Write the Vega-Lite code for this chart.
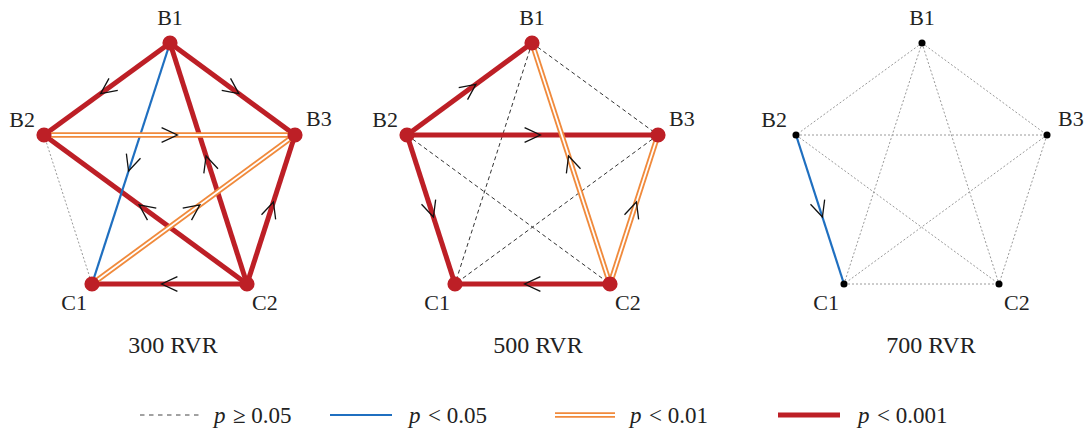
{
  "$schema": "https://vega.github.io/schema/vega-lite/v6.json",
  "width": 1085,
  "height": 435,
  "autosize": {"type": "fit", "contains": "padding"},
  "padding": 0,
  "background": "white",
  "config": {"font": "'Liberation Serif', 'DejaVu Serif', serif", "view": {"stroke": null}, "axis": {"disable": true}, "text": {"font": "'Liberation Serif', 'DejaVu Serif', serif", "color": "#222222"}},
  "datasets": {
    "nodes": [
      {"panel": "300 RVR", "node": "B1", "id": "300B1", "x": 170, "y": 43},
      {"panel": "300 RVR", "node": "B2", "id": "300B2", "x": 44, "y": 135},
      {"panel": "300 RVR", "node": "B3", "id": "300B3", "x": 295, "y": 135},
      {"panel": "300 RVR", "node": "C1", "id": "300C1", "x": 92, "y": 284},
      {"panel": "300 RVR", "node": "C2", "id": "300C2", "x": 247, "y": 284},
      {"panel": "500 RVR", "node": "B1", "id": "500B1", "x": 532, "y": 43},
      {"panel": "500 RVR", "node": "B2", "id": "500B2", "x": 407, "y": 135},
      {"panel": "500 RVR", "node": "B3", "id": "500B3", "x": 658, "y": 135},
      {"panel": "500 RVR", "node": "C1", "id": "500C1", "x": 455, "y": 284},
      {"panel": "500 RVR", "node": "C2", "id": "500C2", "x": 610, "y": 284},
      {"panel": "700 RVR", "node": "B1", "id": "700B1", "x": 922, "y": 43},
      {"panel": "700 RVR", "node": "B2", "id": "700B2", "x": 796, "y": 135},
      {"panel": "700 RVR", "node": "B3", "id": "700B3", "x": 1047, "y": 135},
      {"panel": "700 RVR", "node": "C1", "id": "700C1", "x": 844, "y": 284},
      {"panel": "700 RVR", "node": "C2", "id": "700C2", "x": 999, "y": 284}
    ],
    "edges": [
      {"panel": "300 RVR", "src": "300B1", "dst": "300B2", "sig": "p < 0.001"},
      {"panel": "300 RVR", "src": "300B1", "dst": "300B3", "sig": "p < 0.001"},
      {"panel": "300 RVR", "src": "300B1", "dst": "300C1", "sig": "p < 0.05"},
      {"panel": "300 RVR", "src": "300C2", "dst": "300B1", "sig": "p < 0.001"},
      {"panel": "300 RVR", "src": "300B2", "dst": "300B3", "sig": "p < 0.01"},
      {"panel": "300 RVR", "src": "300B2", "dst": "300C1", "sig": "p ≥ 0.05"},
      {"panel": "300 RVR", "src": "300C2", "dst": "300B2", "sig": "p < 0.001"},
      {"panel": "300 RVR", "src": "300C1", "dst": "300B3", "sig": "p < 0.01"},
      {"panel": "300 RVR", "src": "300C2", "dst": "300B3", "sig": "p < 0.001"},
      {"panel": "300 RVR", "src": "300C2", "dst": "300C1", "sig": "p < 0.001"},
      {"panel": "500 RVR", "src": "500B2", "dst": "500B1", "sig": "p < 0.001"},
      {"panel": "500 RVR", "src": "500B1", "dst": "500B3", "sig": "p ≥ 0.05"},
      {"panel": "500 RVR", "src": "500B1", "dst": "500C1", "sig": "p ≥ 0.05"},
      {"panel": "500 RVR", "src": "500C2", "dst": "500B1", "sig": "p < 0.01"},
      {"panel": "500 RVR", "src": "500B2", "dst": "500B3", "sig": "p < 0.001"},
      {"panel": "500 RVR", "src": "500B2", "dst": "500C1", "sig": "p < 0.001"},
      {"panel": "500 RVR", "src": "500B2", "dst": "500C2", "sig": "p ≥ 0.05"},
      {"panel": "500 RVR", "src": "500B3", "dst": "500C1", "sig": "p ≥ 0.05"},
      {"panel": "500 RVR", "src": "500C2", "dst": "500B3", "sig": "p < 0.01"},
      {"panel": "500 RVR", "src": "500C2", "dst": "500C1", "sig": "p < 0.001"},
      {"panel": "700 RVR", "src": "700B2", "dst": "700C1", "sig": "p < 0.05"},
      {"panel": "700 RVR", "src": "700B1", "dst": "700B2", "sig": "p ≥ 0.05"},
      {"panel": "700 RVR", "src": "700B1", "dst": "700B3", "sig": "p ≥ 0.05"},
      {"panel": "700 RVR", "src": "700B1", "dst": "700C1", "sig": "p ≥ 0.05"},
      {"panel": "700 RVR", "src": "700B1", "dst": "700C2", "sig": "p ≥ 0.05"},
      {"panel": "700 RVR", "src": "700B2", "dst": "700B3", "sig": "p ≥ 0.05"},
      {"panel": "700 RVR", "src": "700B2", "dst": "700C2", "sig": "p ≥ 0.05"},
      {"panel": "700 RVR", "src": "700B3", "dst": "700C1", "sig": "p ≥ 0.05"},
      {"panel": "700 RVR", "src": "700B3", "dst": "700C2", "sig": "p ≥ 0.05"},
      {"panel": "700 RVR", "src": "700C1", "dst": "700C2", "sig": "p ≥ 0.05"}
    ],
    "titles": [
      {"panel": "300 RVR", "x": 173},
      {"panel": "500 RVR", "x": 538},
      {"panel": "700 RVR", "x": 931}
    ],
    "legend": [
      {"sig": "p ≥ 0.05", "rest": "≥ 0.05", "x": 140, "x2": 202, "tx": 214},
      {"sig": "p < 0.05", "rest": "< 0.05", "x": 330, "x2": 392, "tx": 409},
      {"sig": "p < 0.01", "rest": "< 0.01", "x": 555, "x2": 615, "tx": 630},
      {"sig": "p < 0.001", "rest": "< 0.001", "x": 778, "x2": 840, "tx": 858}
    ]
  },
  "layer": [
    {
      "data": {"name": "edges"},
      "transform": [
        {"lookup": "src", "from": {"data": {"name": "nodes"}, "key": "id", "fields": ["x", "y"]}, "as": ["x1", "y1"]},
        {"lookup": "dst", "from": {"data": {"name": "nodes"}, "key": "id", "fields": ["x", "y"]}, "as": ["x2", "y2"]},
        {"filter": "datum.sig === 'p ≥ 0.05' && datum.panel === '500 RVR'"}
      ],
      "mark": {"type": "rule", "color": "#333333", "strokeWidth": 1, "strokeDash": [4, 3]},
      "encoding": {
        "x": {"field": "x1", "type": "quantitative", "scale": {"domain": [0, 1085], "nice": false, "zero": false}, "axis": null},
        "y": {"field": "y1", "type": "quantitative", "scale": {"domain": [0, 435], "nice": false, "zero": false, "reverse": true}, "axis": null},
        "x2": {"field": "x2"},
        "y2": {"field": "y2"}
      }
    },
    {
      "data": {"name": "edges"},
      "transform": [
        {"lookup": "src", "from": {"data": {"name": "nodes"}, "key": "id", "fields": ["x", "y"]}, "as": ["x1", "y1"]},
        {"lookup": "dst", "from": {"data": {"name": "nodes"}, "key": "id", "fields": ["x", "y"]}, "as": ["x2", "y2"]},
        {"filter": "datum.sig === 'p ≥ 0.05' && datum.panel !== '500 RVR'"}
      ],
      "mark": {"type": "rule", "color": "#9a9a9a", "strokeWidth": 1, "strokeDash": [2, 2]},
      "encoding": {
        "x": {"field": "x1", "type": "quantitative", "scale": {"domain": [0, 1085], "nice": false, "zero": false}, "axis": null},
        "y": {"field": "y1", "type": "quantitative", "scale": {"domain": [0, 435], "nice": false, "zero": false, "reverse": true}, "axis": null},
        "x2": {"field": "x2"},
        "y2": {"field": "y2"}
      }
    },
    {
      "data": {"name": "edges"},
      "transform": [
        {"lookup": "src", "from": {"data": {"name": "nodes"}, "key": "id", "fields": ["x", "y"]}, "as": ["x1", "y1"]},
        {"lookup": "dst", "from": {"data": {"name": "nodes"}, "key": "id", "fields": ["x", "y"]}, "as": ["x2", "y2"]},
        {"filter": "datum.sig === 'p < 0.001'"}
      ],
      "mark": {"type": "rule", "strokeCap": "butt", "strokeWidth": 5},
      "encoding": {
        "x": {"field": "x1", "type": "quantitative", "scale": {"domain": [0, 1085], "nice": false, "zero": false}, "axis": null},
        "y": {"field": "y1", "type": "quantitative", "scale": {"domain": [0, 435], "nice": false, "zero": false, "reverse": true}, "axis": null},
        "x2": {"field": "x2"},
        "y2": {"field": "y2"},
        "color": {"field": "sig", "type": "nominal", "scale": {"domain": ["p ≥ 0.05", "p < 0.05", "p < 0.01", "p < 0.001"], "range": ["#444444", "#1f6fc0", "#f08a3c", "#bd1f26"]}, "legend": null}
      }
    },
    {
      "data": {"name": "edges"},
      "transform": [
        {"lookup": "src", "from": {"data": {"name": "nodes"}, "key": "id", "fields": ["x", "y"]}, "as": ["x1", "y1"]},
        {"lookup": "dst", "from": {"data": {"name": "nodes"}, "key": "id", "fields": ["x", "y"]}, "as": ["x2", "y2"]},
        {"filter": "datum.sig === 'p < 0.05'"}
      ],
      "mark": {"type": "rule", "strokeCap": "butt", "strokeWidth": 2.2},
      "encoding": {
        "x": {"field": "x1", "type": "quantitative", "scale": {"domain": [0, 1085], "nice": false, "zero": false}, "axis": null},
        "y": {"field": "y1", "type": "quantitative", "scale": {"domain": [0, 435], "nice": false, "zero": false, "reverse": true}, "axis": null},
        "x2": {"field": "x2"},
        "y2": {"field": "y2"},
        "color": {"field": "sig", "type": "nominal", "scale": {"domain": ["p ≥ 0.05", "p < 0.05", "p < 0.01", "p < 0.001"], "range": ["#444444", "#1f6fc0", "#f08a3c", "#bd1f26"]}, "legend": null}
      }
    },
    {
      "data": {"name": "edges"},
      "transform": [
        {"lookup": "src", "from": {"data": {"name": "nodes"}, "key": "id", "fields": ["x", "y"]}, "as": ["x1", "y1"]},
        {"lookup": "dst", "from": {"data": {"name": "nodes"}, "key": "id", "fields": ["x", "y"]}, "as": ["x2", "y2"]},
        {"filter": "datum.sig === 'p < 0.01'"}
      ],
      "mark": {"type": "rule", "strokeCap": "butt", "strokeWidth": 5.5},
      "encoding": {
        "x": {"field": "x1", "type": "quantitative", "scale": {"domain": [0, 1085], "nice": false, "zero": false}, "axis": null},
        "y": {"field": "y1", "type": "quantitative", "scale": {"domain": [0, 435], "nice": false, "zero": false, "reverse": true}, "axis": null},
        "x2": {"field": "x2"},
        "y2": {"field": "y2"},
        "color": {"field": "sig", "type": "nominal", "scale": {"domain": ["p ≥ 0.05", "p < 0.05", "p < 0.01", "p < 0.001"], "range": ["#444444", "#1f6fc0", "#f08a3c", "#bd1f26"]}, "legend": null}
      }
    },
    {
      "data": {"name": "edges"},
      "transform": [
        {"lookup": "src", "from": {"data": {"name": "nodes"}, "key": "id", "fields": ["x", "y"]}, "as": ["x1", "y1"]},
        {"lookup": "dst", "from": {"data": {"name": "nodes"}, "key": "id", "fields": ["x", "y"]}, "as": ["x2", "y2"]},
        {"filter": "datum.sig === 'p < 0.01'"}
      ],
      "mark": {"type": "rule", "strokeCap": "butt", "strokeWidth": 1.8, "color": "white"},
      "encoding": {
        "x": {"field": "x1", "type": "quantitative", "scale": {"domain": [0, 1085], "nice": false, "zero": false}, "axis": null},
        "y": {"field": "y1", "type": "quantitative", "scale": {"domain": [0, 435], "nice": false, "zero": false, "reverse": true}, "axis": null},
        "x2": {"field": "x2"},
        "y2": {"field": "y2"}
      }
    },
    {
      "data": {"name": "edges"},
      "transform": [
        {"lookup": "src", "from": {"data": {"name": "nodes"}, "key": "id", "fields": ["x", "y"]}, "as": ["x1", "y1"]},
        {"lookup": "dst", "from": {"data": {"name": "nodes"}, "key": "id", "fields": ["x", "y"]}, "as": ["x2", "y2"]},
        {"filter": "datum.sig !== 'p ≥ 0.05'"},
        {"calculate": "(datum.x1 + datum.x2) / 2", "as": "mx"},
        {"calculate": "(datum.y1 + datum.y2) / 2", "as": "my"},
        {"calculate": "atan2(datum.y2 - datum.y1, datum.x2 - datum.x1) * 180 / PI", "as": "ang"}
      ],
      "mark": {"type": "point", "shape": "M-0.5,-0.47L0.5,0L-0.5,0.47", "filled": false, "stroke": "#111111", "strokeWidth": 1.3, "size": 1000, "opacity": 1},
      "encoding": {
        "x": {"field": "mx", "type": "quantitative", "scale": {"domain": [0, 1085], "nice": false, "zero": false}, "axis": null},
        "y": {"field": "my", "type": "quantitative", "scale": {"domain": [0, 435], "nice": false, "zero": false, "reverse": true}, "axis": null},
        "angle": {"field": "ang", "type": "quantitative", "scale": null}
      }
    },
    {
      "data": {"name": "nodes"},
      "transform": [{"filter": "datum.panel !== '700 RVR'"}],
      "mark": {"type": "circle", "size": 230, "color": "#bd1f26", "opacity": 1},
      "encoding": {
        "x": {"field": "x", "type": "quantitative", "scale": {"domain": [0, 1085], "nice": false, "zero": false}, "axis": null},
        "y": {"field": "y", "type": "quantitative", "scale": {"domain": [0, 435], "nice": false, "zero": false, "reverse": true}, "axis": null}
      }
    },
    {
      "data": {"name": "nodes"},
      "transform": [{"filter": "datum.panel === '700 RVR'"}],
      "mark": {"type": "circle", "size": 50, "color": "#000000", "opacity": 1},
      "encoding": {
        "x": {"field": "x", "type": "quantitative", "scale": {"domain": [0, 1085], "nice": false, "zero": false}, "axis": null},
        "y": {"field": "y", "type": "quantitative", "scale": {"domain": [0, 435], "nice": false, "zero": false, "reverse": true}, "axis": null}
      }
    },
    {
      "data": {"name": "nodes"},
      "transform": [{"filter": "datum.node === 'B1'"}],
      "mark": {"type": "text", "font": "'Liberation Serif', 'DejaVu Serif', serif", "fontSize": 22, "align": "center", "baseline": "alphabetic", "dy": -18},
      "encoding": {
        "x": {"field": "x", "type": "quantitative", "scale": {"domain": [0, 1085], "nice": false, "zero": false}, "axis": null},
        "y": {"field": "y", "type": "quantitative", "scale": {"domain": [0, 435], "nice": false, "zero": false, "reverse": true}, "axis": null},
        "text": {"field": "node"}
      }
    },
    {
      "data": {"name": "nodes"},
      "transform": [{"filter": "datum.node === 'B2'"}],
      "mark": {"type": "text", "font": "'Liberation Serif', 'DejaVu Serif', serif", "fontSize": 22, "align": "right", "baseline": "alphabetic", "dx": -9, "dy": -8},
      "encoding": {
        "x": {"field": "x", "type": "quantitative", "scale": {"domain": [0, 1085], "nice": false, "zero": false}, "axis": null},
        "y": {"field": "y", "type": "quantitative", "scale": {"domain": [0, 435], "nice": false, "zero": false, "reverse": true}, "axis": null},
        "text": {"field": "node"}
      }
    },
    {
      "data": {"name": "nodes"},
      "transform": [{"filter": "datum.node === 'B3'"}],
      "mark": {"type": "text", "font": "'Liberation Serif', 'DejaVu Serif', serif", "fontSize": 22, "align": "left", "baseline": "alphabetic", "dx": 11, "dy": -9},
      "encoding": {
        "x": {"field": "x", "type": "quantitative", "scale": {"domain": [0, 1085], "nice": false, "zero": false}, "axis": null},
        "y": {"field": "y", "type": "quantitative", "scale": {"domain": [0, 435], "nice": false, "zero": false, "reverse": true}, "axis": null},
        "text": {"field": "node"}
      }
    },
    {
      "data": {"name": "nodes"},
      "transform": [{"filter": "datum.node === 'C1'"}],
      "mark": {"type": "text", "font": "'Liberation Serif', 'DejaVu Serif', serif", "fontSize": 22, "align": "right", "baseline": "alphabetic", "dx": -5, "dy": 26},
      "encoding": {
        "x": {"field": "x", "type": "quantitative", "scale": {"domain": [0, 1085], "nice": false, "zero": false}, "axis": null},
        "y": {"field": "y", "type": "quantitative", "scale": {"domain": [0, 435], "nice": false, "zero": false, "reverse": true}, "axis": null},
        "text": {"field": "node"}
      }
    },
    {
      "data": {"name": "nodes"},
      "transform": [{"filter": "datum.node === 'C2'"}],
      "mark": {"type": "text", "font": "'Liberation Serif', 'DejaVu Serif', serif", "fontSize": 22, "align": "left", "baseline": "alphabetic", "dx": 5, "dy": 26},
      "encoding": {
        "x": {"field": "x", "type": "quantitative", "scale": {"domain": [0, 1085], "nice": false, "zero": false}, "axis": null},
        "y": {"field": "y", "type": "quantitative", "scale": {"domain": [0, 435], "nice": false, "zero": false, "reverse": true}, "axis": null},
        "text": {"field": "node"}
      }
    },
    {
      "data": {"name": "titles"},
      "mark": {"type": "text", "font": "'Liberation Serif', 'DejaVu Serif', serif", "fontSize": 24, "align": "center", "baseline": "alphabetic"},
      "encoding": {
        "x": {"field": "x", "type": "quantitative", "scale": {"domain": [0, 1085], "nice": false, "zero": false}, "axis": null},
        "y": {"datum": 353, "type": "quantitative", "scale": {"domain": [0, 435], "nice": false, "zero": false, "reverse": true}, "axis": null},
        "text": {"field": "panel"}
      }
    },
    {
      "data": {"name": "legend"},
      "transform": [{"filter": "datum.sig === 'p ≥ 0.05'"}],
      "mark": {"type": "rule", "color": "#444444", "strokeWidth": 1, "strokeDash": [4.5, 4.5]},
      "encoding": {
        "x": {"field": "x", "type": "quantitative", "scale": {"domain": [0, 1085], "nice": false, "zero": false}, "axis": null},
        "x2": {"field": "x2"},
        "y": {"datum": 415, "type": "quantitative", "scale": {"domain": [0, 435], "nice": false, "zero": false, "reverse": true}, "axis": null}
      }
    },
    {
      "data": {"name": "legend"},
      "transform": [{"filter": "datum.sig === 'p < 0.001'"}],
      "mark": {"type": "rule", "strokeCap": "butt", "strokeWidth": 5},
      "encoding": {
        "x": {"field": "x", "type": "quantitative", "scale": {"domain": [0, 1085], "nice": false, "zero": false}, "axis": null},
        "x2": {"field": "x2"},
        "y": {"datum": 415, "type": "quantitative", "scale": {"domain": [0, 435], "nice": false, "zero": false, "reverse": true}, "axis": null},
        "color": {"field": "sig", "type": "nominal", "scale": {"domain": ["p ≥ 0.05", "p < 0.05", "p < 0.01", "p < 0.001"], "range": ["#444444", "#1f6fc0", "#f08a3c", "#bd1f26"]}, "legend": null}
      }
    },
    {
      "data": {"name": "legend"},
      "transform": [{"filter": "datum.sig === 'p < 0.05'"}],
      "mark": {"type": "rule", "strokeCap": "butt", "strokeWidth": 2.2},
      "encoding": {
        "x": {"field": "x", "type": "quantitative", "scale": {"domain": [0, 1085], "nice": false, "zero": false}, "axis": null},
        "x2": {"field": "x2"},
        "y": {"datum": 415, "type": "quantitative", "scale": {"domain": [0, 435], "nice": false, "zero": false, "reverse": true}, "axis": null},
        "color": {"field": "sig", "type": "nominal", "scale": {"domain": ["p ≥ 0.05", "p < 0.05", "p < 0.01", "p < 0.001"], "range": ["#444444", "#1f6fc0", "#f08a3c", "#bd1f26"]}, "legend": null}
      }
    },
    {
      "data": {"name": "legend"},
      "transform": [{"filter": "datum.sig === 'p < 0.01'"}],
      "mark": {"type": "rule", "strokeCap": "butt", "strokeWidth": 5.5},
      "encoding": {
        "x": {"field": "x", "type": "quantitative", "scale": {"domain": [0, 1085], "nice": false, "zero": false}, "axis": null},
        "x2": {"field": "x2"},
        "y": {"datum": 415, "type": "quantitative", "scale": {"domain": [0, 435], "nice": false, "zero": false, "reverse": true}, "axis": null},
        "color": {"field": "sig", "type": "nominal", "scale": {"domain": ["p ≥ 0.05", "p < 0.05", "p < 0.01", "p < 0.001"], "range": ["#444444", "#1f6fc0", "#f08a3c", "#bd1f26"]}, "legend": null}
      }
    },
    {
      "data": {"name": "legend"},
      "transform": [{"filter": "datum.sig === 'p < 0.01'"}],
      "mark": {"type": "rule", "strokeCap": "butt", "strokeWidth": 1.8, "color": "white"},
      "encoding": {
        "x": {"field": "x", "type": "quantitative", "scale": {"domain": [0, 1085], "nice": false, "zero": false}, "axis": null},
        "x2": {"field": "x2"},
        "y": {"datum": 415, "type": "quantitative", "scale": {"domain": [0, 435], "nice": false, "zero": false, "reverse": true}, "axis": null}
      }
    },
    {
      "data": {"name": "legend"},
      "mark": {"type": "text", "font": "'Liberation Serif', 'DejaVu Serif', serif", "fontSize": 23, "fontStyle": "italic", "align": "left", "baseline": "alphabetic"},
      "encoding": {
        "x": {"field": "tx", "type": "quantitative", "scale": {"domain": [0, 1085], "nice": false, "zero": false}, "axis": null},
        "y": {"datum": 423, "type": "quantitative", "scale": {"domain": [0, 435], "nice": false, "zero": false, "reverse": true}, "axis": null},
        "text": {"value": "p"}
      }
    },
    {
      "data": {"name": "legend"},
      "mark": {"type": "text", "font": "'Liberation Serif', 'DejaVu Serif', serif", "fontSize": 23, "align": "left", "baseline": "alphabetic", "dx": 19},
      "encoding": {
        "x": {"field": "tx", "type": "quantitative", "scale": {"domain": [0, 1085], "nice": false, "zero": false}, "axis": null},
        "y": {"datum": 423, "type": "quantitative", "scale": {"domain": [0, 435], "nice": false, "zero": false, "reverse": true}, "axis": null},
        "text": {"field": "rest"}
      }
    }
  ]
}
